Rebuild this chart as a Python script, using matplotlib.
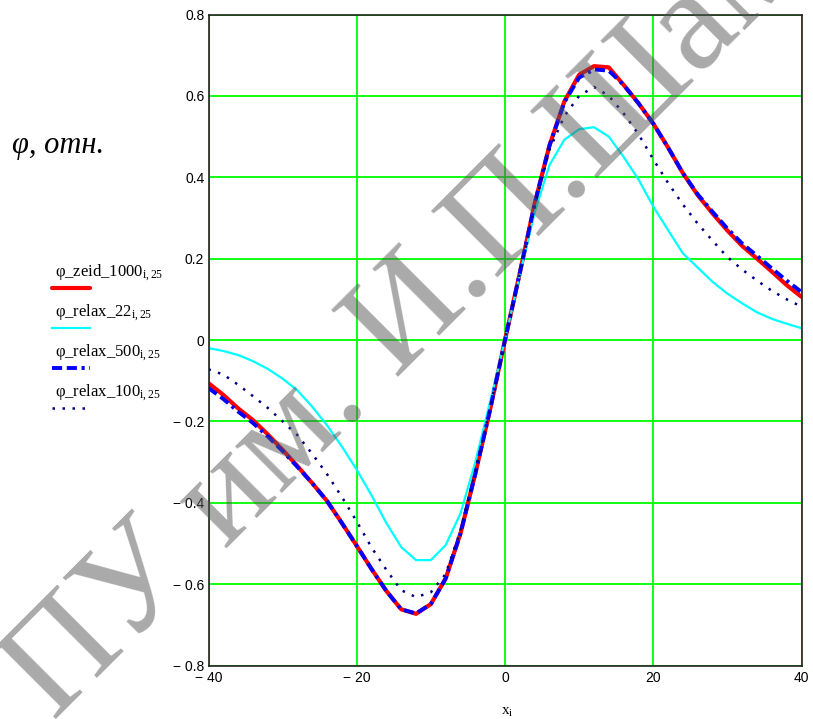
"""
Potential profiles phi(x) at row 25: Seidel solution (1000 iterations) against
relaxation runs with 22, 100 and 500 iterations, drawn in the Mathcad look.
"""
import matplotlib

matplotlib.use("Agg")
import matplotlib.pyplot as plt
from matplotlib.lines import Line2D

# x grid, step 2
x = list(range(-40, 41, 2))

phi_zeid_1000 = [
    -0.106, -0.135, -0.168, -0.197, -0.232, -0.270, -0.310, -0.352, -0.396, -0.450,
    -0.506, -0.563, -0.617, -0.662, -0.673, -0.649, -0.586, -0.475, -0.328, -0.170,
    0.0,
    0.165, 0.335, 0.478, 0.586, 0.652, 0.673, 0.670, 0.627, 0.582, 0.532,
    0.473, 0.410, 0.356, 0.311, 0.269, 0.231, 0.200, 0.168, 0.135, 0.106,
]
phi_relax_22 = [
    -0.020, -0.027, -0.037, -0.052, -0.071, -0.095, -0.124, -0.164, -0.210, -0.262,
    -0.319, -0.382, -0.450, -0.509, -0.541, -0.541, -0.504, -0.426, -0.300, -0.151,
    0.0,
    0.160, 0.313, 0.430, 0.492, 0.518, 0.523, 0.500, 0.450, 0.395, 0.328,
    0.270, 0.213, 0.178, 0.143, 0.114, 0.090, 0.068, 0.052, 0.040, 0.029,
]
phi_relax_500 = [
    -0.118, -0.145, -0.176, -0.204, -0.237, -0.273, -0.312, -0.352, -0.396, -0.450,
    -0.506, -0.563, -0.617, -0.662, -0.672, -0.649, -0.586, -0.475, -0.328, -0.170,
    0.0,
    0.165, 0.335, 0.478, 0.584, 0.645, 0.665, 0.662, 0.627, 0.582, 0.532,
    0.473, 0.410, 0.358, 0.315, 0.274, 0.237, 0.207, 0.176, 0.146, 0.118,
]
phi_relax_100 = [
    -0.072, -0.085, -0.110, -0.138, -0.167, -0.200, -0.234, -0.280, -0.330, -0.386,
    -0.446, -0.510, -0.565, -0.615, -0.632, -0.620, -0.575, -0.468, -0.322, -0.166,
    0.0,
    0.163, 0.330, 0.468, 0.550, 0.600, 0.622, 0.600, 0.557, 0.506, 0.444,
    0.386, 0.333, 0.286, 0.244, 0.204, 0.173, 0.146, 0.121, 0.100, 0.082,
]

legend_labels = [
    r"φ_zeid_1000$_{\mathrm{i,25}}$",
    r"φ_relax_22$_{\mathrm{i,25}}$",
    r"φ_relax_500$_{\mathrm{i,25}}$",
    r"φ_relax_100$_{\mathrm{i,25}}$",
]
x_ticks = [-40, -20, 0, 20, 40]
x_ticklabels = ["\u2212 40", "\u2212 20", "0", "20", "40"]
y_ticks = [-0.8, -0.6, -0.4, -0.2, 0, 0.2, 0.4, 0.6, 0.8]
y_ticklabels = ["\u2212 0.8", "\u2212 0.6", "\u2212 0.4", "\u2212 0.2", "0",
                "0.2", "0.4", "0.6", "0.8"]
y_title = "φ, отн."
x_title = r"x$_{\mathrm{i}}$"
watermark = "ПУ им. И.П.Шамякина"

W, H = 813, 719

plt.rcParams["mathtext.fontset"] = "custom"
plt.rcParams["mathtext.rm"] = "Liberation Serif"
plt.rcParams["mathtext.it"] = "Liberation Serif:italic"

SERIF = ["Liberation Serif", "DejaVu Serif"]
SANS = ["Liberation Sans", "DejaVu Sans"]

styles = [
    dict(color="#ff0000", lw=3.0, solid_capstyle="round"),
    dict(color="#00ffff", lw=1.6),
    dict(color="#0000ff", lw=2.8, dashes=(2.6, 1.2, 2.6, 1.2, 0.8, 1.2)),
    dict(color="#000080", lw=1.8, dashes=(1, 3)),
]


def px(x_px, y_px):
    """Pixel position (from the top-left) to figure fraction."""
    return x_px / W, 1 - y_px / H


def main() -> None:
    fig = plt.figure(figsize=(W / 100, H / 100), dpi=100)
    left, top = px(208.5, 14.5)
    right, bottom = px(801.5, 665.5)
    ax = fig.add_axes([left, bottom, right - left, top - bottom])

    series = [phi_zeid_1000, phi_relax_22, phi_relax_500, phi_relax_100]
    for values, st in zip(series, styles):
        ax.plot(x, values, **st)

    ax.set_xlim(-40, 40)
    ax.set_ylim(-0.8, 0.8)
    ax.set_xticks(x_ticks)
    ax.set_xticklabels(x_ticklabels, family=SANS, fontsize=10)
    ax.set_yticks(y_ticks)
    ax.set_yticklabels(y_ticklabels, family=SANS, fontsize=10)
    ax.tick_params(length=0, colors="black")
    ax.tick_params(axis="x", pad=4)
    ax.tick_params(axis="y", pad=3)
    ax.grid(True, color="#00ff00", lw=1.3)
    ax.set_axisbelow(True)
    for spine in ax.spines.values():
        spine.set_linewidth(1.2)
        spine.set_color("#222222")

    # y title and x title
    fig.text(*px(12, 153), y_title, family=SERIF, style="italic",
             fontsize=22, va="baseline", ha="left")
    fig.text(*px(507, 715), x_title, family=SERIF, fontsize=11,
             ha="center", va="baseline")

    # Mathcad-style legend: label above its line sample
    for i, (label, st) in enumerate(zip(legend_labels, styles)):
        y_lab = 276 + 40 * i
        y_line = 288 + 40 * i
        fig.text(*px(55, y_lab), label, family=SERIF, fontsize=12,
                 ha="left", va="baseline")
        xa, ya = px(52, y_line)
        xb, _ = px(90, y_line)
        fig.add_artist(Line2D([xa, xb], [ya, ya], transform=fig.transFigure, **st))

    # diagonal watermark
    fig.text(*px(54, 722), watermark, family=SERIF, fontsize=104,
             rotation=45, rotation_mode="anchor", ha="left", va="baseline",
             color="#555555", alpha=0.5, zorder=10)

    fig.savefig("out.png", dpi=100)
    plt.close(fig)


if __name__ == "__main__":
    main()
